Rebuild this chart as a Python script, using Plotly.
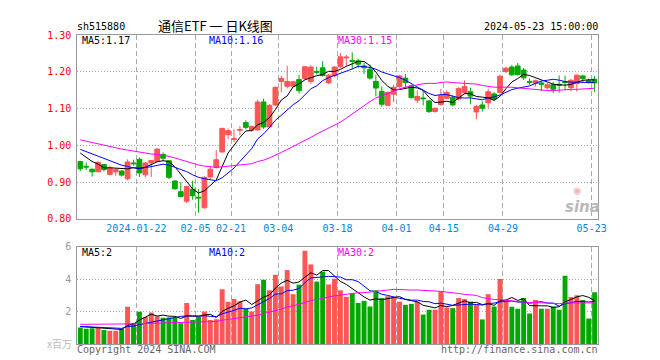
import plotly.graph_objects as go
import pandas as pd

# ---------------- data ----------------
dates = [
    "2024-01-08", "2024-01-09", "2024-01-10", "2024-01-11", "2024-01-12",
    "2024-01-15", "2024-01-16", "2024-01-17", "2024-01-18", "2024-01-19",
    "2024-01-22", "2024-01-23", "2024-01-24", "2024-01-25", "2024-01-26",
    "2024-01-29", "2024-01-30", "2024-01-31", "2024-02-01", "2024-02-02",
    "2024-02-05", "2024-02-06", "2024-02-07", "2024-02-08", "2024-02-19",
    "2024-02-20", "2024-02-21", "2024-02-22", "2024-02-23", "2024-02-26",
    "2024-02-27", "2024-02-28", "2024-02-29", "2024-03-01", "2024-03-04",
    "2024-03-05", "2024-03-06", "2024-03-07", "2024-03-08", "2024-03-11",
    "2024-03-12", "2024-03-13", "2024-03-14", "2024-03-15", "2024-03-18",
    "2024-03-19", "2024-03-20", "2024-03-21", "2024-03-22", "2024-03-25",
    "2024-03-26", "2024-03-27", "2024-03-28", "2024-03-29", "2024-04-01",
    "2024-04-02", "2024-04-03", "2024-04-08", "2024-04-09", "2024-04-10",
    "2024-04-11", "2024-04-12", "2024-04-15", "2024-04-16", "2024-04-17",
    "2024-04-18", "2024-04-19", "2024-04-22", "2024-04-23", "2024-04-24",
    "2024-04-25", "2024-04-26", "2024-04-29", "2024-04-30", "2024-05-06",
    "2024-05-07", "2024-05-08", "2024-05-09", "2024-05-10", "2024-05-13",
    "2024-05-14", "2024-05-15", "2024-05-16", "2024-05-17", "2024-05-20",
    "2024-05-21", "2024-05-22", "2024-05-23",
]

open_p = [
    0.956, 0.943, 0.935, 0.928, 0.948, 0.921, 0.928, 0.930, 0.909, 0.952,
    0.962, 0.920, 0.952, 0.956, 0.975, 0.958, 0.903, 0.874, 0.848, 0.881,
    0.859, 0.830, 0.914, 0.940, 0.982, 1.029, 1.016, 1.041, 1.062, 1.041,
    1.042, 1.118, 1.050, 1.110, 1.174, 1.161, 1.161, 1.179, 1.182, 1.174,
    1.201, 1.211, 1.170, 1.190, 1.214, 1.238, 1.231, 1.230, 1.216, 1.207,
    1.174, 1.147, 1.109, 1.139, 1.160, 1.183, 1.162, 1.123, 1.129, 1.121,
    1.092, 1.111, 1.128, 1.131, 1.126, 1.144, 1.146, 1.091, 1.110, 1.116,
    1.140, 1.144, 1.201, 1.213, 1.216, 1.205, 1.174, 1.168, 1.170, 1.157,
    1.165, 1.166, 1.173, 1.157, 1.168, 1.189, 1.176, 1.180,
]
high_p = [
    0.958, 0.953, 0.937, 0.956, 0.950, 0.945, 0.938, 0.933, 0.962, 0.961,
    0.967, 0.955, 0.960, 0.992, 0.981, 0.960, 0.905, 0.900, 0.890, 0.904,
    0.881, 0.916, 0.942, 0.987, 1.048, 1.046, 1.043, 1.052, 1.068, 1.054,
    1.124, 1.127, 1.112, 1.160, 1.189, 1.216, 1.176, 1.192, 1.216, 1.218,
    1.214, 1.229, 1.194, 1.216, 1.252, 1.246, 1.253, 1.236, 1.225, 1.220,
    1.192, 1.160, 1.147, 1.165, 1.192, 1.194, 1.165, 1.150, 1.150, 1.124,
    1.103, 1.154, 1.150, 1.136, 1.158, 1.177, 1.157, 1.110, 1.120, 1.153,
    1.145, 1.193, 1.214, 1.219, 1.224, 1.211, 1.182, 1.179, 1.176, 1.170,
    1.173, 1.190, 1.190, 1.181, 1.193, 1.192, 1.182, 1.189,
]
low_p = [
    0.930, 0.933, 0.915, 0.927, 0.929, 0.918, 0.917, 0.915, 0.905, 0.945,
    0.914, 0.913, 0.914, 0.954, 0.957, 0.908, 0.879, 0.858, 0.843, 0.852,
    0.817, 0.828, 0.909, 0.937, 0.980, 1.017, 1.009, 1.028, 1.044, 1.038,
    1.040, 1.045, 1.047, 1.107, 1.144, 1.155, 1.158, 1.141, 1.178, 1.168,
    1.193, 1.187, 1.167, 1.186, 1.210, 1.216, 1.207, 1.210, 1.194, 1.179,
    1.133, 1.105, 1.107, 1.118, 1.157, 1.156, 1.128, 1.115, 1.109, 1.088,
    1.089, 1.108, 1.126, 1.106, 1.122, 1.139, 1.112, 1.071, 1.092, 1.102,
    1.121, 1.141, 1.196, 1.189, 1.190, 1.178, 1.165, 1.160, 1.148, 1.152,
    1.142, 1.143, 1.150, 1.146, 1.146, 1.172, 1.168, 1.145,
]
close_p = [
    0.936, 0.941, 0.928, 0.954, 0.934, 0.938, 0.934, 0.919, 0.955, 0.950,
    0.925, 0.952, 0.959, 0.990, 0.965, 0.913, 0.882, 0.861, 0.888, 0.863,
    0.857, 0.913, 0.935, 0.961, 1.046, 1.040, 1.018, 1.043, 1.049, 1.051,
    1.118, 1.050, 1.109, 1.158, 1.182, 1.174, 1.173, 1.149, 1.214, 1.213,
    1.199, 1.190, 1.191, 1.213, 1.241, 1.240, 1.229, 1.221, 1.211, 1.183,
    1.156, 1.112, 1.144, 1.158, 1.189, 1.171, 1.130, 1.133, 1.127, 1.092,
    1.101, 1.136, 1.144, 1.110, 1.155, 1.160, 1.134, 1.106, 1.101, 1.146,
    1.126, 1.188, 1.210, 1.192, 1.193, 1.184, 1.172, 1.176, 1.166, 1.165,
    1.153, 1.164, 1.171, 1.177, 1.191, 1.182, 1.171, 1.170,
]
volume = [
    1.02, 0.94, 0.97, 1.04, 0.87, 0.82, 0.82, 0.95, 2.30, 1.30,
    2.00, 1.67, 1.94, 1.72, 1.62, 1.64, 1.63, 1.28, 2.53, 1.48,
    1.68, 2.01, 1.48, 1.53, 3.38, 2.62, 2.78, 2.64, 2.16, 2.01,
    3.70, 3.97, 3.32, 4.28, 3.56, 4.57, 3.08, 3.67, 5.77, 4.92,
    3.86, 4.47, 3.68, 4.03, 3.32, 2.92, 3.12, 2.54, 2.67, 2.32,
    3.32, 2.84, 2.95, 2.92, 2.62, 2.42, 2.48, 2.62, 1.82, 2.12,
    2.12, 3.22, 2.26, 2.22, 2.84, 2.78, 2.62, 2.42, 1.52, 3.08,
    2.32, 4.02, 2.66, 2.30, 2.18, 2.84, 1.88, 2.72, 2.18, 2.18,
    2.32, 2.12, 4.22, 2.90, 3.02, 2.72, 1.58, 3.20,
]
# sessions before the visible window (needed so the moving averages start at the left edge)
prior_close = [
    1.052, 1.048, 1.045, 1.041, 1.044, 1.038, 1.035, 1.032, 1.030, 1.027,
    1.029, 1.024, 1.021, 1.018, 1.020, 1.015, 1.012, 1.010, 1.008, 1.011,
    1.006, 1.002, 0.998, 0.996, 0.993, 0.994, 0.990, 0.988, 0.987,
]
prior_volume = [
    0.92, 0.98, 0.95, 0.90, 0.97, 0.93, 0.99, 0.96, 1.45, 1.62,
    1.38, 1.55, 1.70, 1.42, 1.48, 1.60, 1.35, 1.52, 1.44, 1.49,
    1.05, 1.12, 1.08, 1.15, 1.02, 1.10, 1.06, 1.13, 1.09,
]
tick_dates = ["2024-01-22", "2024-02-05", "2024-02-21", "2024-03-04", "2024-03-18",
              "2024-04-01", "2024-04-15", "2024-04-29", "2024-05-23"]
tick_labels = ["2024-01-22", "02-05", "02-21", "03-04", "03-18",
               "04-01", "04-15", "04-29", "05-23"]
price_ticks = [0.80, 0.90, 1.00, 1.10, 1.20, 1.30]
vol_ticks = [2, 4, 6]
ma_windows = [5, 10, 30]
ma_colors = ["#000000", "#0000ff", "#ff00ff"]
price_ma_text = ["MA5:1.17", "MA10:1.16", "MA30:1.15"]
vol_ma_text = ["MA5:2", "MA10:2", "MA30:2"]

# ---------------- figure ----------------
W, H = 660, 360
RED = "#ff5555"
GREEN = "#00a800"
MONO = "DejaVu Sans Mono, Liberation Mono, monospace"
CJK = "Noto Sans CJK SC, Noto Sans, sans-serif"

xs = list(range(len(dates)))
tickvals = [dates.index(d) - 0.5 for d in tick_dates]

def px_x(p):
    return p / W

def px_y(p):
    return 1 - p / H

x_dom = [px_x(70.3), px_x(597.7)]
price_dom = [px_y(211.3), px_y(21.8)]
vol_dom = [px_y(340.4), px_y(240.3)]

fig = go.Figure()

fig.add_trace(go.Candlestick(
    x=xs, open=open_p, high=high_p, low=low_p, close=close_p,
    increasing=dict(line=dict(color=RED, width=1), fillcolor=RED),
    decreasing=dict(line=dict(color=GREEN, width=1), fillcolor=GREEN),
    whiskerwidth=0, xaxis="x", yaxis="y", showlegend=False, hoverinfo="skip",
))

cs = pd.Series(prior_close + close_p)
vs = pd.Series(prior_volume + volume)
n0 = len(prior_close)
for w, col in zip(ma_windows, ma_colors):
    fig.add_trace(go.Scatter(
        x=xs, y=cs.rolling(w).mean().iloc[n0:].tolist(), mode="lines",
        line=dict(color=col, width=1), xaxis="x", yaxis="y",
        showlegend=False, hoverinfo="skip"))

bar_colors = [RED if c >= o else GREEN for o, c in zip(open_p, close_p)]
fig.add_trace(go.Bar(
    x=xs, y=volume, marker=dict(color=bar_colors, line=dict(width=0)),
    xaxis="x2", yaxis="y2", showlegend=False, hoverinfo="skip"))

for w, col in zip(ma_windows, ma_colors):
    fig.add_trace(go.Scatter(
        x=xs, y=vs.rolling(w).mean().iloc[n0:].tolist(), mode="lines",
        line=dict(color=col, width=1), xaxis="x2", yaxis="y2",
        showlegend=False, hoverinfo="skip"))

axis_common = dict(showline=True, linecolor="#999999", linewidth=1, mirror=True,
                   zeroline=False, ticks="", fixedrange=True)

fig.update_layout(
    width=W, height=H, margin=dict(l=0, r=0, t=0, b=0),
    paper_bgcolor="white", plot_bgcolor="white",
    bargap=0.17, boxgap=0.2, boxgroupgap=0,
    xaxis=dict(domain=x_dom, range=[-0.5, len(dates) - 0.5], anchor="y",
               tickmode="array", tickvals=tickvals, ticktext=tick_labels,
               tickfont=dict(family=MONO, size=10, color="#0088dd"),
               showgrid=True, gridcolor="#aaaaaa", griddash="5px,3px", gridwidth=1,
               rangeslider=dict(visible=False), **axis_common),
    yaxis=dict(domain=price_dom, range=[0.80, 1.30], anchor="x",
               tickmode="array", tickvals=price_ticks,
               ticktext=[f"{v:.2f}" for v in price_ticks],
               tickfont=dict(family=MONO, size=10, color="#ff0000"),
               showgrid=True, gridcolor="#aaaaaa", griddash="1px,2px",
               ticklabelstandoff=3, **axis_common),
    xaxis2=dict(domain=x_dom, range=[-0.5, len(dates) - 0.5], anchor="y2",
                tickmode="array", tickvals=tickvals, showticklabels=False,
                showgrid=True, gridcolor="#aaaaaa", griddash="5px,3px", **axis_common),
    yaxis2=dict(domain=vol_dom, range=[0, 6], anchor="x2",
                tickmode="array", tickvals=vol_ticks, ticktext=[str(v) for v in vol_ticks],
                tickfont=dict(family=MONO, size=10, color="#999999"),
                showgrid=True, gridcolor="#aaaaaa", griddash="1px,2px",
                ticklabelstandoff=3, **axis_common),
)

def note(text, x, y, color="#000000", size=10, family=MONO, xanchor="left", **kw):
    fig.add_annotation(text=text, x=px_x(x), y=px_y(y), xref="paper", yref="paper",
                       xanchor=xanchor, yanchor="middle", showarrow=False,
                       font=dict(color=color, size=size, family=family), borderpad=0, **kw)

note("sh515880", 69, 13)
note("通信ETF 一 日K线图", 210, 12, size=13, family=CJK, xanchor="center")
note("2024-05-23 15:00:00", 599, 13, xanchor="right")

for txt, col, x in zip(price_ma_text, ma_colors, [74, 203, 334]):
    note(txt, x, 27, color=col)
for txt, col, x in zip(vol_ma_text, ma_colors, [74, 203, 334]):
    note(txt, x, 246.5, color=col)

note("x百万", 66, 340, color="#bbbbbb", size=10, family=CJK, xanchor="right")
note("Copyright 2024 SINA.COM", 69, 346.5, color="#666666")
note("http://finance.sina.com.cn", 599, 346.5, color="#666666", xanchor="right")

# sina watermark
note("<b><i>sina</i></b>", 582, 199, color="#b8b8b8", size=15,
     family="DejaVu Sans, sans-serif", xanchor="center")
note("◉", 577, 182, color="#f4b4b4", size=10, family="DejaVu Sans, sans-serif",
     xanchor="center")

fig.write_html("out.html")
